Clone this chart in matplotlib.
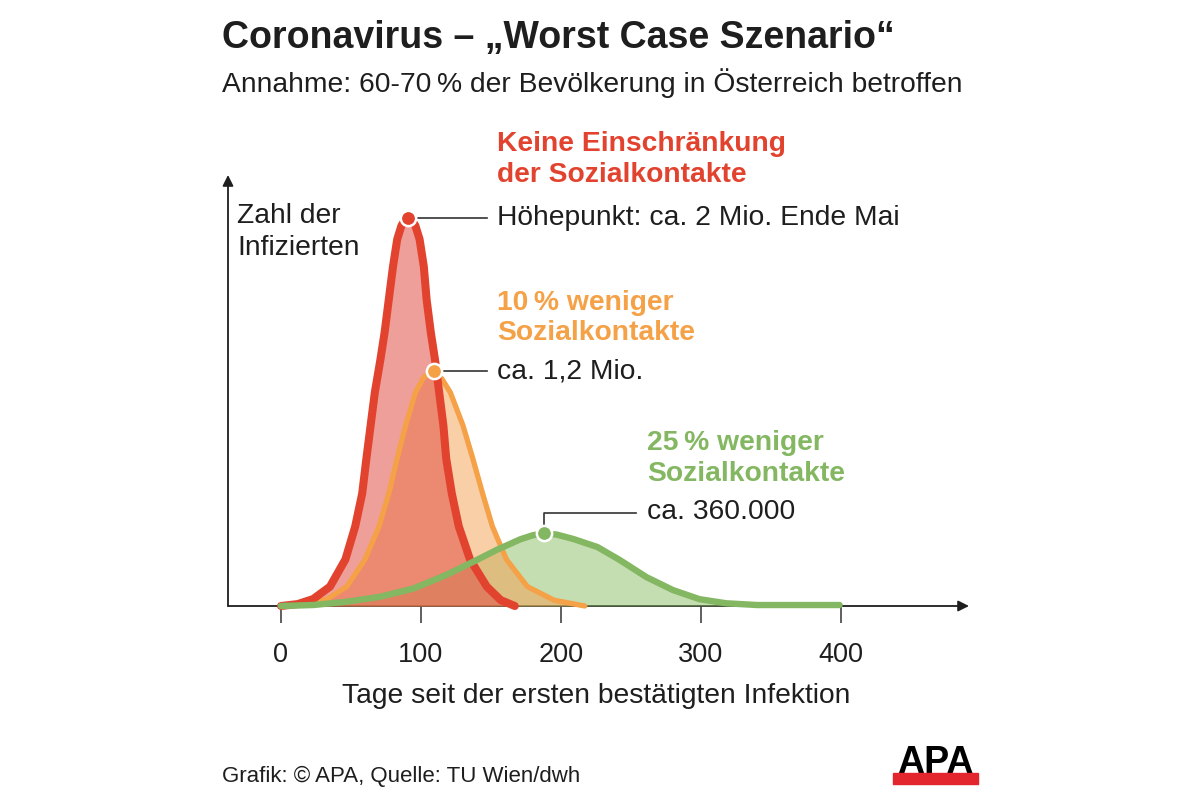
import matplotlib.pyplot as plt
from matplotlib.patches import Rectangle

plt.rcParams['font.family'] = ['Liberation Sans', 'DejaVu Sans']

# Tage seit der ersten Infektion / Infizierte in Mio.
red_days = [0, 12, 23, 35, 46, 53, 58, 61, 64, 67, 71, 74, 77, 80, 83, 86, 88.5, 91,
            93.5, 96, 99, 102, 104, 107, 110, 113, 116, 118, 122, 127, 135, 147, 157, 167]
red_mio = [0, 0.01, 0.036, 0.10, 0.24, 0.41, 0.58, 0.76, 0.93, 1.10, 1.27, 1.41, 1.58,
           1.75, 1.89, 1.96, 1.99, 2.0, 1.99, 1.96, 1.89, 1.75, 1.58, 1.41, 1.27, 1.10,
           0.93, 0.76, 0.58, 0.41, 0.24, 0.10, 0.03, 0.0]

orange_days = [0, 18, 33, 47, 60, 70, 77, 83, 89, 96, 102, 109, 115, 121, 130, 137,
               144, 151, 161, 176, 195, 217]
orange_mio = [0, 0.01, 0.036, 0.10, 0.24, 0.41, 0.58, 0.76, 0.93, 1.10, 1.18, 1.21,
              1.17, 1.10, 0.93, 0.76, 0.58, 0.41, 0.24, 0.10, 0.03, 0.0]

green_days = [0, 23, 47, 71, 95, 118, 137, 154, 171, 180, 188, 197, 209, 226, 242,
              261, 280, 299, 318, 340, 370, 399]
green_mio = [0, 0.005, 0.022, 0.048, 0.091, 0.16, 0.227, 0.289, 0.344, 0.365, 0.375,
             0.368, 0.345, 0.304, 0.237, 0.149, 0.082, 0.035, 0.014, 0.005, 0.005, 0.005]

x_ticks = [0, 100, 200, 300, 400]

RED = '#e2432f'
ORANGE = '#f5a147'
GREEN = '#84b762'
DARK = '#1e1e1e'
FS = 20.3


def fx(px):
    return px / 1200


def fy(py):
    return 1 - py / 800


fig = plt.figure(figsize=(12, 8), dpi=100)
fig.patch.set_facecolor('white')

# Achsen: Ursprung bei (228, 606) Pixel, 1,4 px pro Tag, 194 px pro Mio.
ax = fig.add_axes([fx(228), fy(606), (969 - 228) / 1200, (606 - 175) / 800])
ax.set_xlim((228 - 281) / 1.4, (969 - 281) / 1.4)
ax.set_ylim(0, (606 - 175) / 194)
for s in ax.spines.values():
    s.set_visible(False)
ax.set_yticks([])
ax.set_xticks(x_ticks)
ax.set_xticklabels([str(t) for t in x_ticks])
ax.tick_params(axis='x', length=12, width=1.2, color='#444444', pad=14,
               labelsize=19.5, labelcolor=DARK)

arrow = dict(arrowstyle='-|>', color=DARK, lw=1.3, mutation_scale=16, shrinkA=0, shrinkB=0)
ax.annotate('', xy=(1, 0), xytext=(0, 0), xycoords='axes fraction', arrowprops=arrow, zorder=0)
ax.annotate('', xy=(0, 1), xytext=(0, 0), xycoords='axes fraction', arrowprops=arrow, zorder=0)

# Flächen
ax.fill_between(green_days, green_mio, color='#8cbe64', alpha=0.5, lw=0, zorder=1)
ax.fill_between(orange_days, orange_mio, color='#f5a050', alpha=0.5, lw=0, zorder=2)
ax.fill_between(red_days, red_mio, color='#e15046', alpha=0.55, lw=0, zorder=3)

# Linien
ax.plot(orange_days, orange_mio, color=ORANGE, lw=3.8, solid_capstyle='round',
        solid_joinstyle='round', zorder=4, clip_on=False)
ax.plot(red_days, red_mio, color=RED, lw=5.8, solid_capstyle='round',
        solid_joinstyle='round', zorder=5, clip_on=False)
ax.plot(green_days, green_mio, color=GREEN, lw=4.6, solid_capstyle='round',
        solid_joinstyle='round', zorder=6, clip_on=False)

# Höhepunkte
peaks = []
for days, vals, col in [(red_days, red_mio, RED), (orange_days, orange_mio, ORANGE),
                        (green_days, green_mio, GREEN)]:
    i = vals.index(max(vals))
    peaks.append((days[i], vals[i]))
    ax.plot(days[i], vals[i], 'o', ms=11, mfc=col, mec='white', mew=1.8, zorder=8, clip_on=False)

lead = dict(color='#333333', lw=1.2, zorder=7)
rd, rv = peaks[0]
ax.plot([rd + 7, (487 - 281) / 1.4], [rv, rv], **lead)
od, ov = peaks[1]
ax.plot([od + 7, (487 - 281) / 1.4], [ov, ov], **lead)
gd, gv = peaks[2]
gtop = (606 - 513) / 194
ax.plot([gd, gd, (636 - 281) / 1.4], [gv + 0.03, gtop, gtop], **lead)

# Texte
fig.text(fx(222), fy(48), 'Coronavirus – „Worst Case Szenario“', fontsize=27,
         fontweight='bold', color=DARK, va='baseline')
fig.text(fx(222), fy(92), 'Annahme: 60-70\u2009% der Bevölkerung in Österreich betroffen',
         fontsize=FS, color=DARK, va='baseline')

fig.text(fx(497), fy(151), 'Keine Einschränkung', fontsize=FS, fontweight='bold',
         color=RED, va='baseline')
fig.text(fx(497), fy(182), 'der Sozialkontakte', fontsize=FS, fontweight='bold',
         color=RED, va='baseline')
fig.text(fx(497), fy(225), 'Höhepunkt: ca. 2 Mio. Ende Mai', fontsize=FS,
         color=DARK, va='baseline')

fig.text(fx(497), fy(310), '10\u2009% weniger', fontsize=FS, fontweight='bold',
         color=ORANGE, va='baseline')
fig.text(fx(497), fy(340), 'Sozialkontakte', fontsize=FS, fontweight='bold',
         color=ORANGE, va='baseline')
fig.text(fx(497), fy(379), 'ca. 1,2 Mio.', fontsize=FS, color=DARK, va='baseline')

fig.text(fx(647), fy(450), '25\u2009% weniger', fontsize=FS, fontweight='bold',
         color=GREEN, va='baseline')
fig.text(fx(647), fy(481), 'Sozialkontakte', fontsize=FS, fontweight='bold',
         color=GREEN, va='baseline')
fig.text(fx(647), fy(519), 'ca. 360.000', fontsize=FS, color=DARK, va='baseline')

fig.text(fx(237), fy(223), 'Zahl der', fontsize=FS, color=DARK, va='baseline')
fig.text(fx(237), fy(255), 'Infizierten', fontsize=FS, color=DARK, va='baseline')

fig.text(fx(596), fy(703), 'Tage seit der ersten bestätigten Infektion', fontsize=FS,
         color=DARK, ha='center', va='baseline')

fig.text(fx(222), fy(782), 'Grafik: © APA, Quelle: TU Wien/dwh', fontsize=16,
         color=DARK, va='baseline')

# APA Logo
fig.text(fx(935.5), fy(773), 'APA', fontsize=27, fontweight='heavy', color='black',
         ha='center', va='baseline')
fig.patches.append(Rectangle((fx(893), fy(784)), (978 - 893) / 1200, 11 / 800,
                             transform=fig.transFigure, color='#e3262d', zorder=5))

fig.savefig('out.png', dpi=100)
